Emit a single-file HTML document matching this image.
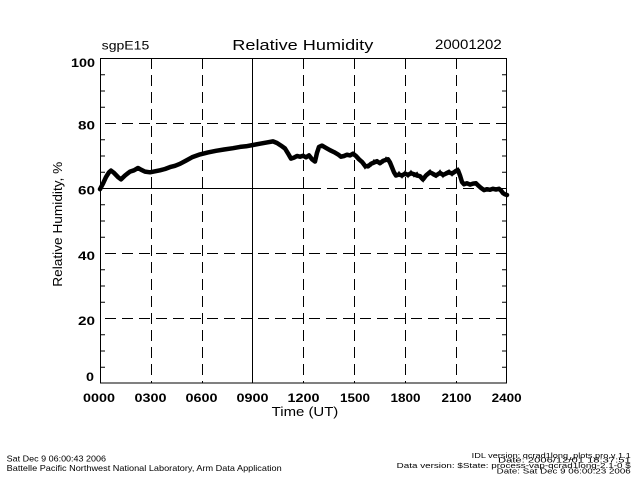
<!DOCTYPE html>
<html><head><meta charset="utf-8"><style>
html,body{margin:0;padding:0;background:#fff;}
svg{display:block;}
text{font-family:"Liberation Sans",sans-serif;fill:#000;}
</style></head><body>
<svg width="640" height="480" viewBox="0 0 640 480" xmlns="http://www.w3.org/2000/svg">
<rect x="0" y="0" width="640" height="480" fill="#fff"/>
<!-- grid -->
<g stroke="#000" stroke-width="1" fill="none">
  <path d="M105 123.5H507 M105 253.5H507 M105 318.5H507 M310 188.5H507" stroke-dasharray="11 6"/>
  <path d="M100 188.5H310"/>
  <path d="M151.5 58V383 M202.5 58V383 M303.5 58V383 M354.5 58V383 M405.5 58V383 M456.5 58V383" stroke-dasharray="11 6"/>
  <path d="M252.5 58V383"/>
  <rect x="100.5" y="58.5" width="406" height="324.5"/>
  <!-- minor ticks left/right every 5 -->
  <path d="M100 74.75h5 M100 91h5 M100 107.25h5 M100 139.75h5 M100 156h5 M100 172.25h5 M100 204.75h5 M100 221h5 M100 237.25h5 M100 269.75h5 M100 286h5 M100 302.25h5 M100 334.75h5 M100 351h5 M100 367.25h5
  M502 74.75h5 M502 91h5 M502 107.25h5 M502 139.75h5 M502 156h5 M502 172.25h5 M502 204.75h5 M502 221h5 M502 237.25h5 M502 269.75h5 M502 286h5 M502 302.25h5 M502 334.75h5 M502 351h5 M502 367.25h5"/>
</g>
<!-- data -->
<polyline fill="none" stroke="#000" stroke-width="4.5" stroke-linejoin="round" stroke-linecap="round" points="
100,189.2 103,183.6 106,177.1 109,172.3 111,170.6 114,172.9 118,177.1 121,179.4 125,175.5 130,171.6 134,170.3 138,168.0 141,169.7 145,171.6 150,172.3 155,171.3 160,170.3 165,169.0 170,167.1 175,165.8 180,163.8 186,160.6 192,157.3 200,154.4 208,152.4 216,150.8 224,149.5 233,148.2 240,146.9 246,146.3 253,145.0 260,143.7 267,142.4 273,141.4 277,143.0 281,145.6 285,148.5 288,153.4 291,158.6 294,157.6 297,156.0 300,156.7 303,155.7 306,157.3 309,155.4 312,159.3 315,161.5 317,152.8 319,146.9 322,145.6 326,147.9 330,150.2 334,152.1 338,154.4 341,156.7 344,156.0 347,154.7 350,155.4 353,153.7 356,156.0 359,159.3 362,161.9 365,165.8 368,166.4 371,163.8 374,162.5 377,161.2 380,163.2 383,160.9 386,159.9 388,159.3 390,162.5 392,167.4 394,172.3 396,175.5 399,174.5 402,175.5 405,173.6 408,174.9 411,173.2 414,174.2 417,175.5 420,176.2 423,179.4 426,175.5 430,172.3 433,173.9 436,175.5 440,172.9 443,174.9 446,173.6 449,172.3 452,173.6 455,171.6 458,170.3 460,175.5 462,182.0 464,184.3 467,183.3 470,184.6 473,183.6 476,183.3 478,185.3 481,187.9 484,190.1 487,189.2 490,189.8 493,188.8 496,189.5 499,188.8 501,190.5 503,193.1 505,194.4 507,195.0"/>
<!-- jitter overlay for noisy texture -->
<polyline fill="none" stroke="#000" stroke-width="2" points="
396,177 399,172.5 402,177 405,172 408,176.5 411,171.5 414,176 417,173 420,178 423,181 426,174 430,170.5 433,175.5 436,177 440,171 443,176.5 446,172 449,170.5 452,175 455,170 458,168.5 460,173"/>
<polyline fill="none" stroke="#000" stroke-width="2" points="
362,163.5 365,168 368,164.5 371,165.5 374,160.5 377,163 380,161.5 383,162.5 386,158 388,161"/>
<!-- titles -->
<text x="101.7" y="49.3" font-size="11.5" textLength="47.6" lengthAdjust="spacingAndGlyphs">sgpE15</text>
<text x="232.3" y="50" font-size="15" textLength="141" lengthAdjust="spacingAndGlyphs">Relative Humidity</text>
<text x="435" y="49" font-size="13.5" textLength="66.7" lengthAdjust="spacingAndGlyphs">20001202</text>
<!-- y tick labels -->
<g font-size="12" font-weight="bold" text-anchor="end">
  <text x="95" y="67" textLength="24" lengthAdjust="spacingAndGlyphs">100</text>
  <text x="95" y="129.5" textLength="17" lengthAdjust="spacingAndGlyphs">80</text>
  <text x="95" y="194.5" textLength="17" lengthAdjust="spacingAndGlyphs">60</text>
  <text x="95" y="259.8" textLength="17" lengthAdjust="spacingAndGlyphs">40</text>
  <text x="95" y="324.8" textLength="17" lengthAdjust="spacingAndGlyphs">20</text>
  <text x="94" y="381" textLength="8" lengthAdjust="spacingAndGlyphs">0</text>
</g>
<!-- x tick labels -->
<g font-size="12" font-weight="bold" text-anchor="middle">
  <text x="99" y="402" textLength="32" lengthAdjust="spacingAndGlyphs">0000</text>
  <text x="150.5" y="402" textLength="32" lengthAdjust="spacingAndGlyphs">0300</text>
  <text x="201.5" y="402" textLength="32" lengthAdjust="spacingAndGlyphs">0600</text>
  <text x="252.5" y="402" textLength="32" lengthAdjust="spacingAndGlyphs">0900</text>
  <text x="303.5" y="402" textLength="32" lengthAdjust="spacingAndGlyphs">1200</text>
  <text x="355" y="402" textLength="30" lengthAdjust="spacingAndGlyphs">1500</text>
  <text x="405.5" y="402" textLength="30" lengthAdjust="spacingAndGlyphs">1800</text>
  <text x="456.5" y="402" textLength="30" lengthAdjust="spacingAndGlyphs">2100</text>
  <text x="506.7" y="402" textLength="30" lengthAdjust="spacingAndGlyphs">2400</text>
</g>
<text x="271.7" y="416" font-size="12.5" textLength="66.6" lengthAdjust="spacingAndGlyphs">Time (UT)</text>
<text x="62" y="224.2" font-size="12.5" text-anchor="middle" transform="rotate(-90 62 224.2)" textLength="125" lengthAdjust="spacingAndGlyphs">Relative Humidity, %</text>
<!-- footer -->
<g font-size="8.5">
  <text x="6.7" y="461.5" textLength="99.3" lengthAdjust="spacingAndGlyphs">Sat Dec  9 06:00:43 2006</text>
  <text x="6.7" y="471.2" textLength="275" lengthAdjust="spacingAndGlyphs">Battelle Pacific Northwest National Laboratory, Arm Data Application</text>
</g>
<g font-size="7.5" text-anchor="end">
  <text x="630.7" y="458" textLength="159" lengthAdjust="spacingAndGlyphs">IDL version: qcrad1long_plots.pro,v 1.1</text>
  <text x="630.7" y="462.7" textLength="132.7" lengthAdjust="spacingAndGlyphs">Date: 2006/12/01 18:37:51</text>
  <text x="630.7" y="468" textLength="234" lengthAdjust="spacingAndGlyphs">Data version: $State: process-vap-qcrad1long-2.1-0 $</text>
  <text x="630.7" y="473.3" textLength="134" lengthAdjust="spacingAndGlyphs">Date: Sat Dec  9 06:00:23 2006</text>
</g>
</svg>
</body></html>
